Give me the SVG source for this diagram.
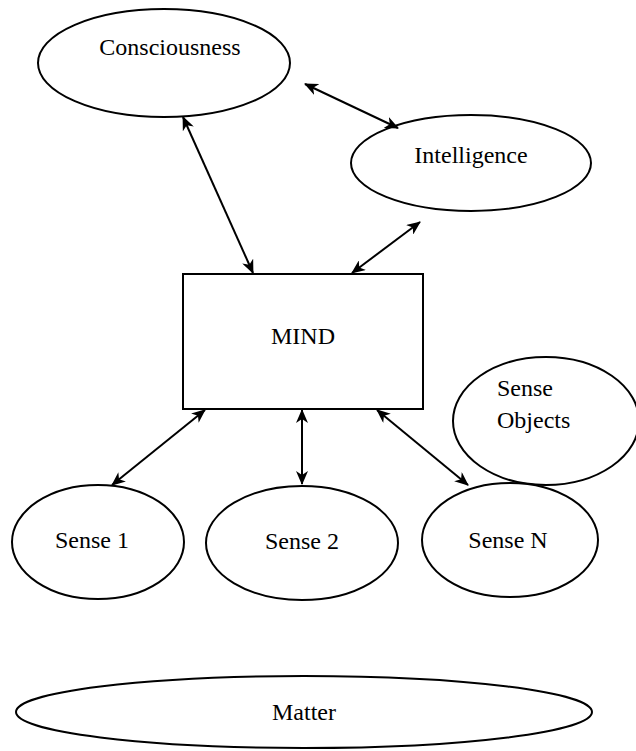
<svg xmlns="http://www.w3.org/2000/svg" width="636" height="751" viewBox="0 0 636 751">
<style>
.n{fill:#fff;stroke:#000;stroke-width:2}
.t{font-family:"Liberation Serif","Times New Roman",serif;font-size:24px;fill:#000;text-anchor:middle;dominant-baseline:central}
.l{text-anchor:start}
.c{stroke:#000;stroke-width:2;fill:none;marker-start:url(#a);marker-end:url(#a)}
</style>
<defs>
<marker id="a" viewBox="0 0 14 12" refX="13" refY="6" markerWidth="14" markerHeight="12" markerUnits="userSpaceOnUse" orient="auto-start-reverse">
<path d="M0,0 L14,6 L0,12 L4,6 z" fill="#000"/>
</marker>
</defs>
<rect width="636" height="751" fill="#fff"/>
<g id="consciousness"><ellipse class="n" cx="164" cy="63" rx="126" ry="54"/><text class="t" x="170" y="47">Consciousness</text></g>
<g id="intelligence"><ellipse class="n" cx="471" cy="163" rx="120" ry="48"/><text class="t" x="471" y="155">Intelligence</text></g>
<g id="mind"><rect class="n" x="183" y="274" width="240" height="135"/><text class="t" x="303" y="336">MIND</text></g>
<g id="sense-objects"><ellipse class="n" cx="546" cy="421" rx="93" ry="64"/><text class="t l" x="497" y="388">Sense</text><text class="t l" x="497" y="420">Objects</text></g>
<g id="sense1"><ellipse class="n" cx="98" cy="542" rx="86" ry="57"/><text class="t" x="92" y="540">Sense 1</text></g>
<g id="sense2"><ellipse class="n" cx="302" cy="543" rx="96" ry="57"/><text class="t" x="302" y="541">Sense 2</text></g>
<g id="senseN"><ellipse class="n" cx="510" cy="540" rx="88" ry="57"/><text class="t" x="508" y="540">Sense N</text></g>
<g id="matter"><ellipse class="n" cx="304" cy="712" rx="288" ry="36"/><text class="t" x="304" y="712">Matter</text></g>
<g id="connectors">
<line class="c" x1="305" y1="84" x2="398" y2="128"/>
<line class="c" x1="183" y1="117" x2="253" y2="273"/>
<line class="c" x1="420" y1="222" x2="352" y2="273"/>
<line class="c" x1="205" y1="410" x2="112" y2="485"/>
<line class="c" x1="302" y1="410" x2="302" y2="484"/>
<line class="c" x1="377" y1="410" x2="468" y2="485"/>
</g>
</svg>
